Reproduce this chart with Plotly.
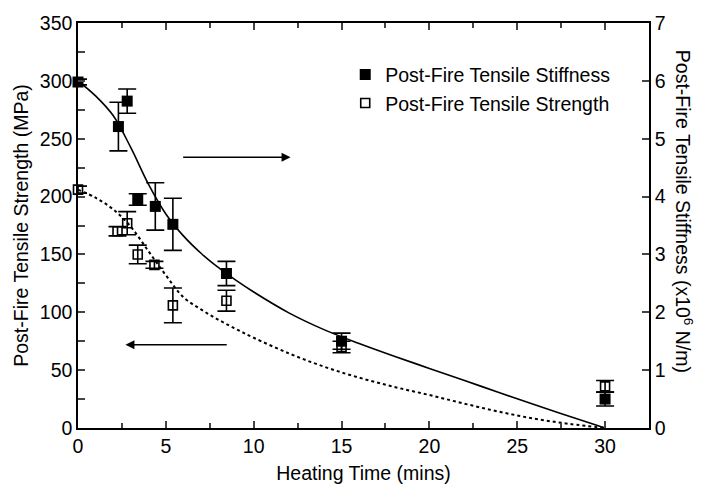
import plotly.graph_objects as go

# ---- data ----
stiff_x = [0, 2.3, 2.8, 3.4, 4.4, 5.4, 8.45, 15, 30]
stiff_y = [5.98, 5.21, 5.65, 3.95, 3.83, 3.52, 2.67, 1.50, 0.50]
stiff_err = [0.05, 0.42, 0.21, 0.10, 0.41, 0.45, 0.21, 0.14, 0.12]

str_x = [0, 2.25, 2.8, 3.4, 4.35, 5.4, 8.45, 15, 30]
str_y = [206, 170, 177, 150, 141, 106, 110, 70, 36]
str_err = [3, 4, 10, 8, 3, 15, 9, 5, 5]

fit_stiff_x = [0, 1, 2, 3, 4, 5, 6, 7, 8, 9, 10, 12, 14, 16, 18, 20, 22, 24, 26, 28, 30]
fit_stiff_y = [6.0, 5.74, 5.4, 4.85, 4.22, 3.7, 3.32, 3.02, 2.77, 2.55, 2.35, 1.99, 1.7, 1.46,
               1.24, 1.03, 0.82, 0.61, 0.4, 0.2, 0.0]

fit_str_x = [0, 1, 2, 3, 4, 5, 6, 7, 8, 9, 10, 12, 14, 16, 18, 20, 22, 24, 26, 28, 30]
fit_str_y = [206, 199, 189, 174, 153, 132, 113, 102.5, 93.5, 85.5, 78, 64.5, 53, 43.5, 35.5,
             28.5, 21, 14, 8, 3.5, 0]

FONT = "Liberation Sans, Arial, sans-serif"
FS = 19.5

fig = go.Figure()

fig.add_trace(go.Scatter(x=fit_stiff_x, y=fit_stiff_y, yaxis="y2", mode="lines",
                         line=dict(color="black", width=1.6, shape="spline", smoothing=1),
                         showlegend=False, hoverinfo="skip"))
fig.add_trace(go.Scatter(x=fit_str_x, y=fit_str_y, mode="lines",
                         line=dict(color="black", width=2, dash="dot", shape="spline", smoothing=1),
                         showlegend=False, hoverinfo="skip"))

fig.add_trace(go.Scatter(x=str_x, y=str_y, mode="markers", name="Post-Fire Tensile Strength",
                         cliponaxis=False,
                         marker=dict(symbol="square-open", size=9, color="black", line=dict(width=1.6)),
                         error_y=dict(type="data", array=str_err, color="black", thickness=1.6, width=9)))
fig.add_trace(go.Scatter(x=stiff_x, y=stiff_y, yaxis="y2", mode="markers", name="Post-Fire Tensile Stiffness",
                         cliponaxis=False,
                         marker=dict(symbol="square", size=11, color="black"),
                         error_y=dict(type="data", array=stiff_err, color="black", thickness=1.6, width=9)))

fig.update_layout(
    width=709, height=496,
    margin=dict(l=78, r=60, t=13, b=68),
    paper_bgcolor="white", plot_bgcolor="white",
    font=dict(family=FONT, size=FS, color="black"),
    xaxis=dict(range=[0, 32.5], tickvals=[0, 5, 10, 15, 20, 25, 30], ticks="inside", ticklen=7,
               tickwidth=1.5, showline=True, linecolor="black", linewidth=1.5, mirror="ticks",
               showgrid=False, zeroline=False, tickfont=dict(size=FS),
               minor=dict(tickvals=[2.5, 7.5, 12.5, 17.5, 22.5, 27.5], ticks="inside", ticklen=5, tickwidth=1.5),
               title=dict(text="Heating Time (mins)", standoff=10, font=dict(size=FS))),
    yaxis=dict(range=[0, 350], dtick=50, ticks="inside", ticklen=7, tickwidth=1.5,
               showline=True, linecolor="black", linewidth=1.5, showgrid=False, zeroline=False,
               tickfont=dict(size=FS),
               minor=dict(dtick=25, ticks="inside", ticklen=7, tickwidth=1.5),
               title=dict(text="Post-Fire Tensile Strength (MPa)", standoff=6, font=dict(size=FS))),
    yaxis2=dict(range=[0, 7], dtick=1, overlaying="y", side="right", ticks="inside", ticklen=7,
                tickwidth=1.5, showline=True, linecolor="black", linewidth=1.5, showgrid=False,
                zeroline=False, tickfont=dict(size=FS)),
    legend=dict(x=0.468, y=0.92, xanchor="left", yanchor="top", bgcolor="rgba(0,0,0,0)",
                traceorder="reversed", font=dict(size=FS), itemwidth=30, tracegroupgap=0),
    showlegend=True,
)

fig.add_annotation(x=1.085, y=0.535, xref="paper", yref="paper",
                   text="Post-Fire Tensile Stiffness (x10<sup>6</sup> N/m)",
                   textangle=90, showarrow=False, font=dict(size=FS))

fig.add_annotation(x=12.1, y=234, ax=5.9, ay=234, xref="x", yref="y", axref="x", ayref="y",
                   text="", showarrow=True, arrowhead=2, arrowsize=1.2, arrowwidth=1.5, arrowcolor="black")
fig.add_annotation(x=2.7, y=72, ax=8.55, ay=72, xref="x", yref="y", axref="x", ayref="y",
                   text="", showarrow=True, arrowhead=2, arrowsize=1.2, arrowwidth=1.5, arrowcolor="black")

fig.write_html("out.html")
